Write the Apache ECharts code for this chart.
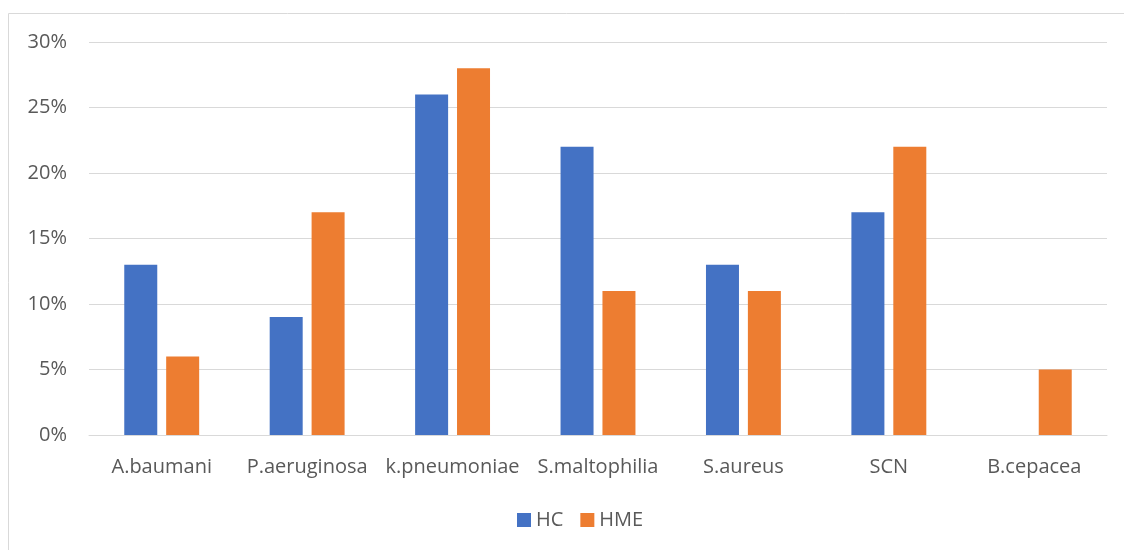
<!DOCTYPE html>
<html lang="en">
  <head>
    <meta charset="UTF-8" />
    <title>HC vs HME</title>
    <script src="https://cdn.jsdelivr.net/npm/echarts@6.0.0/dist/echarts.min.js"></script>
    <style>
      html, body { margin: 0; padding: 0; background: #fff; }
      #chart { width: 1124px; height: 550px; }
    </style>
  </head>
  <body>
    <div id="chart"></div>
    <script>
      // categories and values (percent)
      const categories = ["A.baumani", "P.aeruginosa", "k.pneumoniae", "S.maltophilia", "S.aureus", "SCN", "B.cepacea"];
      const hcValues = [13, 9, 26, 22, 13, 17, 0];
      const hmeValues = [6, 17, 28, 11, 11, 22, 5];

      const textColor = "#595959";
      const font = "'Open Sans', 'Noto Sans', sans-serif";

      const chart = echarts.init(document.getElementById("chart"));

      chart.setOption({
        animation: false,
        textStyle: { fontFamily: font },
        graphic: [
          {
            type: "rect",
            shape: { x: 8.5, y: 13.5, width: 1200, height: 600 },
            style: { fill: "none", stroke: "#D9D9D9", lineWidth: 1 },
            silent: true
          }
        ],
        grid: { left: 89, right: 17, top: 42, bottom: 115 },
        legend: {
          bottom: 15,
          left: 512,
          itemWidth: 14,
          itemHeight: 14,
          itemGap: 17,
          icon: "rect",
          textStyle: { color: textColor, fontSize: 20, fontFamily: font },
          data: ["HC", "HME"]
        },
        xAxis: {
          type: "category",
          data: categories,
          axisLine: { lineStyle: { color: "#D9D9D9", width: 1 } },
          axisTick: { show: false },
          axisLabel: { color: textColor, fontSize: 20, margin: 22, interval: 0, hideOverlap: false }
        },
        yAxis: {
          type: "value",
          min: 0,
          max: 30,
          interval: 5,
          axisLine: { show: false },
          axisTick: { show: false },
          splitLine: { lineStyle: { color: "#D9D9D9", width: 1 } },
          axisLabel: { color: textColor, fontSize: 20, margin: 22, formatter: "{value}%" }
        },
        series: [
          {
            name: "HC",
            type: "bar",
            data: hcValues,
            barWidth: 33,
            barGap: "27%",
            itemStyle: { color: "#4472C4" }
          },
          {
            name: "HME",
            type: "bar",
            data: hmeValues,
            barWidth: 33,
            itemStyle: { color: "#ED7D31" }
          }
        ]
      });
    </script>
  </body>
</html>
